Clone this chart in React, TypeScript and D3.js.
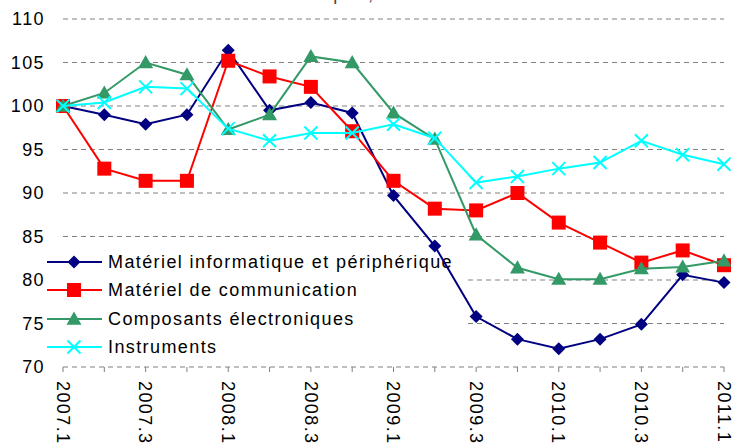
import React from 'react';
import * as d3 from 'd3';

// trimestres 2007.1 -> 2011.1
const quarters = [
  '2007.1', '2007.2', '2007.3', '2007.4',
  '2008.1', '2008.2', '2008.3', '2008.4',
  '2009.1', '2009.2', '2009.3', '2009.4',
  '2010.1', '2010.2', '2010.3', '2010.4',
  '2011.1'
];

const informatique = [100, 99.0, 97.9, 99.0, 106.4, 99.5, 100.4, 99.2, 89.7, 83.9, 75.8, 73.2, 72.1, 73.2, 74.9, 80.6, 79.7];
const communication = [100, 92.8, 91.4, 91.4, 105.2, 103.4, 102.2, 97.1, 91.4, 88.2, 88.0, 90.0, 86.6, 84.3, 82.0, 83.4, 81.7];
const composants = [100, 101.5, 105.0, 103.6, 97.3, 99.0, 105.7, 105.0, 99.2, 96.2, 85.2, 81.4, 80.1, 80.1, 81.3, 81.5, 82.2];
const instruments = [100, 100.4, 102.2, 102.0, 97.4, 96.0, 96.9, 96.9, 97.9, 96.3, 91.2, 91.9, 92.8, 93.5, 96.0, 94.4, 93.3];

const yTicks = [70, 75, 80, 85, 90, 95, 100, 105, 110];

const series = [
  { name: 'Matériel informatique et périphérique', values: informatique, color: '#000080', marker: 'diamond' },
  { name: 'Matériel de communication', values: communication, color: '#FF0000', marker: 'square' },
  { name: 'Composants électroniques', values: composants, color: '#339966', marker: 'triangle' },
  { name: 'Instruments', values: instruments, color: '#00FFFF', marker: 'cross' }
];

const FONT = 'Liberation Sans, Arial, sans-serif';

const Marker = ({ type, x, y, color }: { type: string; x: number; y: number; color: string }) => {
  if (type === 'diamond') {
    const s = 6.5;
    return <path d={`M${x},${y - s}L${x + s},${y}L${x},${y + s}L${x - s},${y}Z`} fill={color} />;
  }
  if (type === 'square') {
    const s = 7;
    return <rect x={x - s} y={y - s} width={s * 2} height={s * 2} fill={color} />;
  }
  if (type === 'triangle') {
    const s = 7.5;
    return <path d={`M${x},${y - s}L${x + s},${y + s * 0.75}L${x - s},${y + s * 0.75}Z`} fill={color} />;
  }
  const s = 6.5;
  return (
    <path d={`M${x - s},${y - s}L${x + s},${y + s}M${x - s},${y + s}L${x + s},${y - s}`}
      stroke={color} strokeWidth={2} fill="none" />
  );
};

export default function App() {
  const width = 744;
  const height = 446;
  const left = 63;
  const right = 724;
  const top = 19;
  const bottom = 367;

  const x = d3.scalePoint<string>().domain(quarters).range([left, right]);
  const y = d3.scaleLinear().domain([70, 110]).range([bottom, top]);

  const line = d3.line<number>()
    .x((_, i) => x(quarters[i])!)
    .y(d => y(d));

  const legendRows = [262, 290, 319, 347];

  return (
    <svg width={width} height={height}
      style={{ position: 'absolute', left: 0, top: 0, background: '#fff' }}
      fontFamily={FONT} letterSpacing={1.4}>
      {/* titre coupé en haut */}
      <text x={398} y={0} textAnchor="middle" fontSize={18} fill="#444">
        Indices de prix, base 100 au 2007.1
      </text>

      {/* grille */}
      {yTicks.map(t => (
        <g key={t}>
          <line x1={left} x2={right} y1={y(t)} y2={y(t)}
            stroke="#808080" strokeWidth={1} strokeDasharray="5,4" />
          <text x={45} y={y(t)} dy="0.35em" textAnchor="end" fontSize={18} fill="#000">{t}</text>
        </g>
      ))}

      {/* graduations de l'axe des x */}
      {quarters.map(q => (
        <line key={q} x1={x(q)} x2={x(q)} y1={bottom} y2={bottom + 5} stroke="#808080" strokeWidth={1} />
      ))}
      {quarters.filter((_, i) => i % 2 === 0).map(q => (
        <text key={q} transform={`translate(${x(q)},${381}) rotate(90)`}
          dy="0.35em" fontSize={18} fill="#000">{q}</text>
      ))}

      {/* légende */}
      <rect x={46} y={248} width={420} height={112} fill="#fff" />
      {series.map((s, i) => (
        <g key={s.name}>
          <line x1={47} x2={102} y1={legendRows[i]} y2={legendRows[i]} stroke={s.color} strokeWidth={2} />
          <Marker type={s.marker} x={74} y={legendRows[i]} color={s.color} />
          <text x={108} y={legendRows[i]} dy="0.35em" fontSize={18} fill="#000">{s.name}</text>
        </g>
      ))}

      {/* séries */}
      {series.map(s => (
        <g key={s.name}>
          <path d={line(s.values) || ''} fill="none" stroke={s.color} strokeWidth={2} />
          {s.values.map((v, i) => (
            <Marker key={i} type={s.marker} x={x(quarters[i])!} y={y(v)} color={s.color} />
          ))}
        </g>
      ))}
    </svg>
  );
}
